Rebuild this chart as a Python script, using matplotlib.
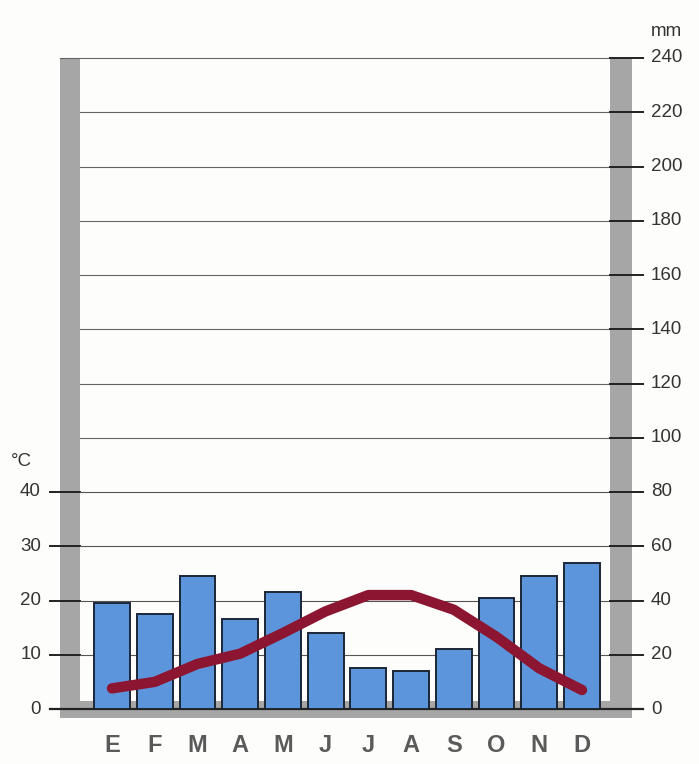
import matplotlib
matplotlib.use("Agg")
import matplotlib.pyplot as plt
from matplotlib.patches import Rectangle
from matplotlib.transforms import blended_transform_factory as blend
import numpy as np

# datos climograma
meses = ["E", "F", "M", "A", "M", "J", "J", "A", "S", "O", "N", "D"]
precip_mm = [39, 35, 49, 33, 43, 28, 15, 14, 22, 41, 49, 54]
temp_c = [3.8, 5.0, 8.3, 10.2, 14.0, 18.0, 21.0, 21.0, 18.3, 13.3, 7.5, 3.5]
mm_ticks = list(range(0, 241, 20))
c_ticks = [0, 10, 20, 30, 40]

W, H = 699, 764
fig = plt.figure(figsize=(W/100, H/100), dpi=100)
fig.patch.set_facecolor("#fdfdfb")

def fx(px): return px / W
def fy(py): return 1 - py / H

# ejes en pixeles: x 80..610, y 0mm=709, 240mm=58
ax = fig.add_axes([fx(80), fy(709), fx(610) - fx(80), fy(58) - fy(709)])
ax.set_facecolor("none")
ax.set_xlim(-0.749, 11.656)
ax.set_ylim(0, 240)
ax.axis("off")

# marco gris
gris = "#a6a6a6"
for x0, y0, x1, y1 in [(60, 58, 80, 718), (610, 58, 632, 718), (60, 701, 632, 718)]:
    fig.add_artist(Rectangle((fx(x0), fy(y1)), fx(x1) - fx(x0), fy(y0) - fy(y1),
                             transform=fig.transFigure, facecolor=gris, edgecolor="none", zorder=0))

fuente = dict(fontsize=13.5, color="#333", family="Liberation Sans")

# lineas horizontales
tr = ax.get_yaxis_transform()
for v in mm_ticks:
    if v == 0:
        ax.plot([-0.0566, 1.062], [v, v], transform=tr, color="#222", lw=1.6, clip_on=False, zorder=2)
    elif v <= 80:
        ax.plot([-0.0566, 0], [v, v], transform=tr, color="#222", lw=1.4, clip_on=False, zorder=2)
        ax.plot([0, 1.0], [v, v], transform=tr, color="#555", lw=0.8, clip_on=False, zorder=2)
        ax.plot([1.0, 1.062], [v, v], transform=tr, color="#222", lw=1.4, clip_on=False, zorder=2)
    else:
        x0 = -0.0377 if v == 240 else 0
        ax.plot([x0, 1.0], [v, v], transform=tr, color="#666", lw=0.8, clip_on=False, zorder=2)
        ax.plot([1.0, 1.062], [v, v], transform=tr, color="#222", lw=1.4, clip_on=False, zorder=2)
    ax.text(fx(651), v, str(v), transform=blend(fig.transFigure, ax.transData),
            ha="left", va="center", **fuente)

for c in c_ticks:
    ax.text(fx(41), c * 2, str(c), transform=blend(fig.transFigure, ax.transData),
            ha="right", va="center", **fuente)

fig.text(fx(651), fy(32), "mm", ha="left", va="center", **fuente)
fig.text(fx(11), fy(462), "°C", ha="left", va="center", **fuente)

# barras de precipitacion
x = np.arange(len(meses))
ax.bar(x, precip_mm, width=0.84, color="#5d95dc", edgecolor="#1c2636", linewidth=1.4, zorder=3)

# temperatura (eje secundario)
ax2 = ax.twinx()
ax2.set_ylim(0, 120)
ax2.axis("off")
ax2.plot(x, temp_c, color="#8c1631", lw=7.5, solid_capstyle="round", solid_joinstyle="round", zorder=4)

for i, m in enumerate(meses):
    ax.text(i, fy(745), m, transform=blend(ax.transData, fig.transFigure),
            ha="center", va="center", fontsize=17, fontweight="bold", color="#5a5a5a",
            family="Liberation Sans")

fig.savefig("out.png", dpi=100, facecolor=fig.get_facecolor())
